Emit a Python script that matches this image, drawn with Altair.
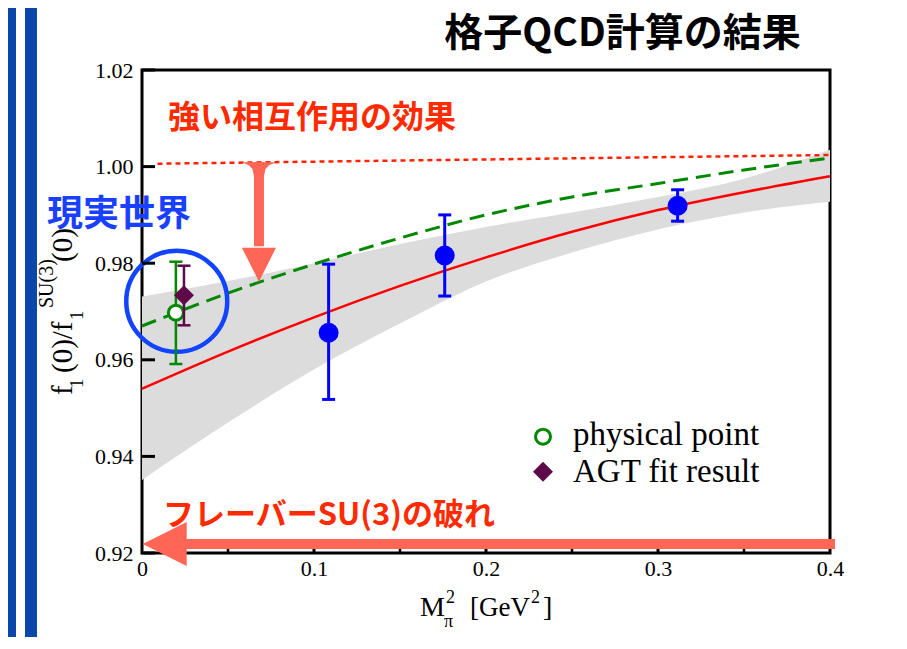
import altair as alt
import pandas as pd

# ---------------- data ----------------
curve_x = [0.0, 0.05, 0.10, 0.15, 0.20, 0.25, 0.30, 0.35, 0.40]
band_low = [0.9351, 0.9470, 0.9580, 0.9675, 0.9762, 0.9822, 0.9870, 0.9905, 0.9927]
band_high = [0.9731, 0.9763, 0.9800, 0.9840, 0.9875, 0.9905, 0.9937, 0.9975, 1.0035]
fit_red = [0.9540, 0.9617, 0.9688, 0.9753, 0.9812, 0.9865, 0.9910, 0.9947, 0.9980]
fit_green = [0.9670, 0.9738, 0.9798, 0.9852, 0.9900, 0.9937, 0.9965, 0.9993, 1.0018]
unity_x = [0.009, 0.138, 0.40]
unity_y = [1.0006, 1.0012, 1.0024]

lat_m2 = [0.1085, 0.176, 0.3114]
lat_f = [0.9656, 0.9816, 0.9919]
lat_lo = [0.9518, 0.9732, 0.9887]
lat_hi = [0.9798, 0.9900, 0.9952]

phys_m2 = [0.0197]
phys_f = [0.96975]
phys_lo = [0.95913]
phys_hi = [0.98031]

agt_m2 = [0.0244]
agt_f = [0.97335]
agt_lo = [0.96714]
agt_hi = [0.97948]

x_major = [0.0, 0.1, 0.2, 0.3, 0.4]
x_minor = [0.05, 0.15, 0.25, 0.35]
y_major = [0.92, 0.94, 0.96, 0.98, 1.00, 1.02]

# ---------------- styling ----------------
W, H = 688, 483
SERIF = "Liberation Serif"
JP = "Noto Sans CJK JP"
ARROW = "#ff6655"
RED_TXT = "#ff2a00"
BLUE_TXT = "#1a40ff"
GREEN = "#008800"
PURPLE = "#5e0a4a"
BLUE = "#0000ff"

xs = alt.Scale(domain=[0, 0.4], nice=False, zero=False)
ys = alt.Scale(domain=[0.92, 1.02], nice=False, zero=False)

x_axis = alt.Axis(
    values=x_major, labelExpr="datum.value == 0 ? '0' : format(datum.value, '.1f')",
    ticks=False, tickSize=0, domain=False, grid=False, title=None,
    labelPadding=5, labelFlush=False, labelOverlap=False)
y_axis = alt.Axis(
    values=y_major, format=".2f", ticks=False, tickSize=0, domain=False, grid=False,
    title=None, labelPadding=9, labelFlush=False, labelOverlap=False)


def X(f):
    return alt.X(f, type="quantitative", scale=xs, axis=x_axis)


def Y(f):
    return alt.Y(f, type="quantitative", scale=ys, axis=y_axis)


one = pd.DataFrame({"k": [0]})

curves = pd.DataFrame({"x": curve_x, "lo": band_low, "hi": band_high,
                       "red": fit_red, "green": fit_green})
unity = pd.DataFrame({"x": unity_x, "y": unity_y})
lat = pd.DataFrame({"x": lat_m2, "y": lat_f, "lo": lat_lo, "hi": lat_hi})
phys = pd.DataFrame({"x": phys_m2, "y": phys_f, "lo": phys_lo, "hi": phys_hi})
agt = pd.DataFrame({"x": agt_m2, "y": agt_f, "lo": agt_lo, "hi": agt_hi})

layers = []

# error band
layers.append(alt.Chart(curves).mark_area(color="#dcdcdc", interpolate="monotone").encode(
    x=X("x"), y=Y("lo"), y2="hi"))

# slide frame stripes on the left
for x0, x1 in [(-134, -126), (-117, -105)]:
    layers.append(alt.Chart(one).mark_rect(color="#0a47a9").encode(
        x=alt.value(x0), x2=alt.value(x1), y=alt.value(-62), y2=alt.value(H + 90)))

layers.append(alt.Chart(unity).mark_line(color="#ff2200", strokeWidth=2.5, strokeDash=[5, 4]).encode(
    x=X("x"), y=Y("y")))
layers.append(alt.Chart(curves).mark_line(color=GREEN, strokeWidth=3, strokeDash=[15, 8],
                                          interpolate="monotone").encode(x=X("x"), y=Y("green")))
layers.append(alt.Chart(curves).mark_line(color="#ff0000", strokeWidth=2.5,
                                          interpolate="monotone").encode(x=X("x"), y=Y("red")))

# blue ring around the physical point
layers.append(alt.Chart(pd.DataFrame({"x": [0.0202], "y": [0.97211]})).mark_point(
    shape="circle", size=10201, filled=False, stroke="#1144ff", strokeWidth=4.5, opacity=1).encode(
    x=X("x"), y=Y("y")))

CAP = "M-1,0L1,0"


def errbars(df, color, width):
    bar = alt.Chart(df).mark_rule(color=color, strokeWidth=width).encode(x=X("x"), y=Y("lo"), y2="hi")
    c1 = alt.Chart(df).mark_point(shape=CAP, size=169, filled=False, stroke=color,
                                  strokeWidth=width, opacity=1).encode(x=X("x"), y=Y("lo"))
    c2 = alt.Chart(df).mark_point(shape=CAP, size=169, filled=False, stroke=color,
                                  strokeWidth=width, opacity=1).encode(x=X("x"), y=Y("hi"))
    return [bar, c1, c2]


layers += errbars(lat, BLUE, 3)
layers += errbars(phys, GREEN, 2.5)
layers.append(alt.Chart(lat).mark_circle(size=400, color=BLUE, opacity=1).encode(x=X("x"), y=Y("y")))
layers.append(alt.Chart(phys).mark_point(shape="circle", size=225, filled=False, stroke=GREEN,
                                         fill="white", fillOpacity=1, strokeWidth=3, opacity=1).encode(
    x=X("x"), y=Y("y")))
layers += errbars(agt, PURPLE, 2.5)
layers.append(alt.Chart(agt).mark_point(shape="diamond", size=400, filled=True, color=PURPLE,
                                        opacity=1).encode(x=X("x"), y=Y("y")))

# vertical arrow (strong interaction effect)
va = pd.DataFrame({"x": [0.068], "top": [1.0009], "base": [0.9835], "tip": [0.97617]})
layers.append(alt.Chart(va).mark_rule(color=ARROW, strokeWidth=10).encode(x=X("x"), y=Y("top"), y2="base"))
layers.append(alt.Chart(va).mark_point(
    shape="M-1,0L1,0L0.6,0.18L0.38,0.4L0.3,0.8L-0.3,0.8L-0.38,0.4L-0.6,0.18Z",
    size=1156, filled=True, color=ARROW, opacity=1, strokeWidth=0).encode(x=X("x"), y=Y("top")))
layers.append(alt.Chart(va).mark_point(shape="M-1,-2L1,-2L0,0Z", size=1156, filled=True, color=ARROW,
                                       opacity=1, strokeWidth=0).encode(x=X("x"), y=Y("tip")))

# ticks pointing inward
yt = pd.DataFrame({"x": [0.0] * len(y_major), "y": y_major})
layers.append(alt.Chart(yt).mark_point(shape="M0,0L2,0", size=169, filled=False, stroke="black",
                                       strokeWidth=3, opacity=1).encode(x=X("x"), y=Y("y")))
xt = pd.DataFrame({"x": x_major[1:-1], "y": [0.92] * 3})
layers.append(alt.Chart(xt).mark_point(shape="M0,0L0,-2", size=169, filled=False, stroke="black",
                                       strokeWidth=3, opacity=1).encode(x=X("x"), y=Y("y")))
xm = pd.DataFrame({"x": x_minor, "y": [0.92] * 4})
layers.append(alt.Chart(xm).mark_point(shape="M0,0L0,-2", size=64, filled=False, stroke="black",
                                       strokeWidth=2.5, opacity=1).encode(x=X("x"), y=Y("y")))

# horizontal arrow (flavor SU(3) breaking)
ha = pd.DataFrame({"x": [0.0004], "base": [0.0250], "end": [0.4029], "y": [0.92186]})
layers.append(alt.Chart(ha).mark_rule(color=ARROW, strokeWidth=10).encode(x=X("base"), x2="end", y=Y("y")))
layers.append(alt.Chart(ha).mark_point(shape="M0,0L2,-1L2,1Z", size=1936, filled=True, color=ARROW,
                                       opacity=1, strokeWidth=0).encode(x=X("x"), y=Y("y")))


def ptext(text, x, y, size, color="black", font=SERIF, weight="normal", angle=0, align="left"):
    return alt.Chart(one).mark_text(text=text, fontSize=size, font=font, fontWeight=weight,
                                    color=color, angle=angle, align=align,
                                    baseline="alphabetic").encode(x=alt.value(x), y=alt.value(y))


# legend
layers.append(alt.Chart(one).mark_point(shape="circle", size=225, filled=False, stroke=GREEN,
                                        strokeWidth=3, opacity=1).encode(x=alt.value(401), y=alt.value(366.7)))
layers.append(alt.Chart(one).mark_point(shape="diamond", size=400, filled=True, color=PURPLE,
                                        opacity=1).encode(x=alt.value(401), y=alt.value(401.7)))
layers.append(ptext("physical point", 431, 375, 33))
layers.append(ptext("AGT fit result", 431, 411.5, 33))

# Japanese annotations
layers.append(ptext("格子QCD計算の結果", 480.5, -24, 39, font=JP, weight="bold", align="center"))
layers.append(ptext("強い相互作用の効果", 26, 58, 32, color=RED_TXT, font=JP, weight="bold"))
layers.append(ptext("現実世界", -95, 156, 36, color=BLUE_TXT, font=JP, weight="bold"))
layers.append(ptext("フレーバーSU(3)の破れ", 21, 455, 31, color=RED_TXT, font=JP, weight="bold"))

# y-axis title: f_1(0)/f_1^{SU(3)}(0)
layers.append(ptext("f", -70, 325, 29, angle=270))
layers.append(ptext("1", -59, 318, 19, angle=270))
layers.append(ptext("(0)/f", -70, 303, 29, angle=270))
layers.append(ptext("1", -59, 250, 19, angle=270))
layers.append(ptext("SU(3)", -89, 238, 20, angle=270))
layers.append(ptext("(0)", -70, 192, 29, angle=270))

# x-axis title: M_pi^2 [GeV^2]
layers.append(ptext("M", 278, 546, 28))
layers.append(ptext("2", 304, 533, 18))
layers.append(ptext("π", 302, 557, 18))
layers.append(ptext("[GeV", 328, 546, 27))
layers.append(ptext("2", 389, 533, 18))
layers.append(ptext("]", 401, 546, 28))

chart = alt.layer(*layers).properties(
    width=W, height=H,
    autosize=alt.AutoSizeParams(type="none"),
    padding={"left": 134, "top": 62, "right": 60, "bottom": 84},
    background="white",
).configure_view(stroke="black", strokeWidth=3).configure_axis(
    labelFont=SERIF, labelFontSize=22, labelColor="black")

chart.save("out.html", embed_options={"renderer": "svg", "actions": False})
